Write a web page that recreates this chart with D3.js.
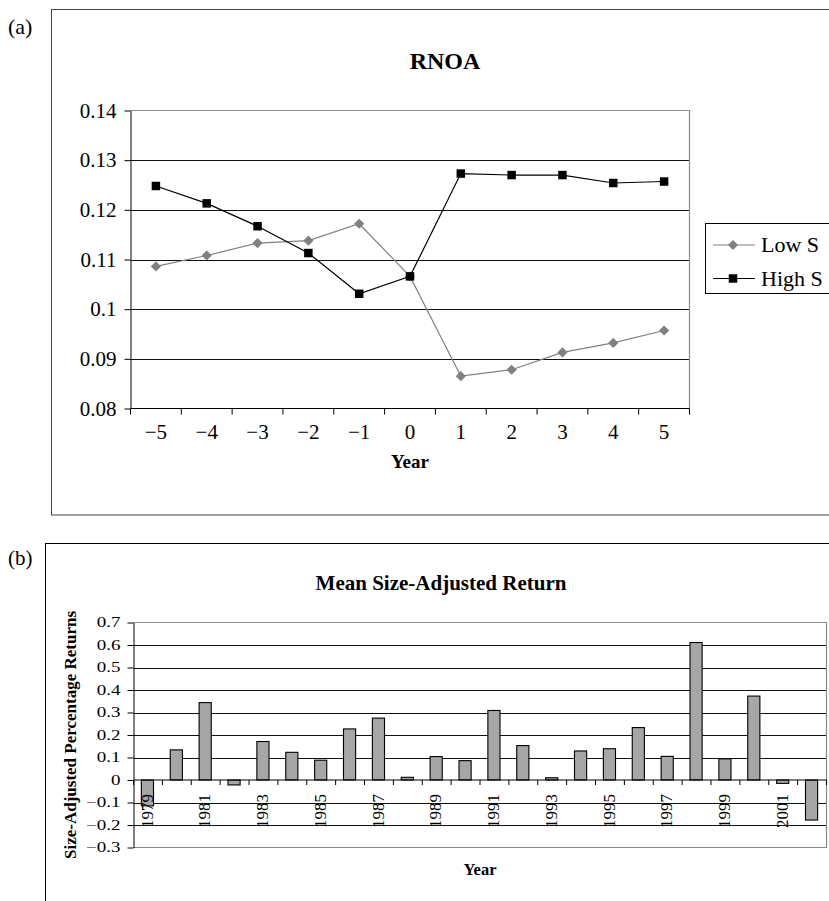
<!DOCTYPE html>
<html>
<head>
<meta charset="utf-8">
<script src="https://cdn.jsdelivr.net/npm/d3@7"></script>
<style>
  html, body { margin: 0; padding: 0; background: #fff; }
  text { font-family: "Liberation Serif", "Times New Roman", serif; }
</style>
</head>
<body>
<svg id="chart"></svg>
<script>
// Panel (a): RNOA around event year
const rnoaYears = [-5, -4, -3, -2, -1, 0, 1, 2, 3, 4, 5];
const lowS  = [0.1086, 0.1108, 0.1133, 0.1138, 0.1172, 0.1066, 0.0865, 0.0878, 0.0913, 0.0932, 0.0957];
const highS = [0.1248, 0.1213, 0.1167, 0.1113, 0.1031, 0.1066, 0.1273, 0.1270, 0.1270, 0.1254, 0.1257];
const rnoaTicks = [0.08, 0.09, 0.1, 0.11, 0.12, 0.13, 0.14];

// Panel (b): mean size-adjusted return by year
const returnYears = [1979, 1980, 1981, 1982, 1983, 1984, 1985, 1986, 1987, 1988, 1989, 1990,
                     1991, 1992, 1993, 1994, 1995, 1996, 1997, 1998, 1999, 2000, 2001, 2002];
const sizeAdjReturns = [-0.115, 0.134, 0.344, -0.022, 0.171, 0.123, 0.088, 0.227, 0.275, 0.012, 0.104, 0.086,
                        0.309, 0.153, 0.010, 0.129, 0.139, 0.233, 0.105, 0.611, 0.094, 0.373, -0.015, -0.178];
const returnTicks = [-0.3, -0.2, -0.1, 0, 0.1, 0.2, 0.3, 0.4, 0.5, 0.6, 0.7];
const returnLabelYears = [1979, 1981, 1983, 1985, 1987, 1989, 1991, 1993, 1995, 1997, 1999, 2001];

const W = 829, H = 901;
const svg = d3.select("#chart").attr("width", W).attr("height", H);

const fmtNum = v => {
  const s = String(+v.toFixed(2));
  return s.startsWith("-") ? "\u2212" + s.slice(1) : s;
};

// ---------------- panel (a) ----------------
svg.append("text").attr("x", 8).attr("y", 34).attr("font-size", 22).text("(a)");
svg.append("rect")
    .attr("x", 51.5).attr("y", 9.5).attr("width", 820).attr("height", 505.5)
    .attr("fill", "none").attr("stroke", "#444");

svg.append("text")
    .attr("x", 445).attr("y", 69)
    .attr("text-anchor", "middle").attr("font-size", 24).attr("font-weight", "bold")
    .text("RNOA");

const xA = d3.scaleBand().domain(rnoaYears).range([130.5, 689.5]).padding(0);
const yA = d3.scaleLinear().domain([0.08, 0.14]).range([408.5, 110.5]);
const cxA = d => xA(d) + xA.bandwidth() / 2;

const gA = svg.append("g");

// gridlines
gA.append("g").selectAll("line")
  .data(rnoaTicks.filter(t => t > 0.08 && t < 0.14))
  .join("line")
    .attr("x1", xA.range()[0]).attr("x2", xA.range()[1])
    .attr("y1", d => Math.round(yA(d)) + 0.5).attr("y2", d => Math.round(yA(d)) + 0.5)
    .attr("stroke", "#111").attr("stroke-width", 1.2);

// plot border (top/right gray)
gA.append("path")
    .attr("d", `M${xA.range()[0]},${yA(0.14)}H${xA.range()[1]}V${yA(0.08)}`)
    .attr("fill", "none").attr("stroke", "#8a8a8a").attr("stroke-width", 1.2);

// y axis
const axisA = gA.append("g")
    .attr("transform", `translate(${xA.range()[0]},0)`)
    .call(d3.axisLeft(yA).tickValues(rnoaTicks).tickSize(6).tickSizeOuter(0).tickPadding(8).tickFormat(fmtNum));
axisA.select(".domain").attr("stroke", "#000");
axisA.selectAll(".tick line").attr("stroke", "#000");
axisA.selectAll(".tick text")
    .attr("font-family", "Liberation Serif, serif").attr("font-size", 21).attr("fill", "#000");

// x axis
gA.append("line")
    .attr("x1", xA.range()[0]).attr("x2", xA.range()[1])
    .attr("y1", yA(0.08)).attr("y2", yA(0.08))
    .attr("stroke", "#000");
gA.append("g").selectAll("line")
  .data(rnoaYears.map(d => xA(d)).concat([xA.range()[1]]))
  .join("line")
    .attr("x1", d => d).attr("x2", d => d)
    .attr("y1", yA(0.08)).attr("y2", yA(0.08) + 6)
    .attr("stroke", "#000");
gA.append("g").selectAll("text")
  .data(rnoaYears)
  .join("text")
    .attr("x", d => cxA(d)).attr("y", 439)
    .attr("text-anchor", "middle").attr("font-size", 21)
    .text(d => fmtNum(d));
gA.append("text")
    .attr("x", (xA.range()[0] + xA.range()[1]) / 2).attr("y", 468)
    .attr("text-anchor", "middle").attr("font-size", 19).attr("font-weight", "bold")
    .text("Year");

// series
const series = [
  { name: "Low S", values: lowS, color: "#808080", symbol: d3.symbolSquare, size: 52, rotate: 45 },
  { name: "High S", values: highS, color: "#000", symbol: d3.symbolSquare, size: 72, rotate: 0 }
];
const line = d3.line().x((d, i) => cxA(rnoaYears[i])).y(d => yA(d));

series.forEach(s => {
  gA.append("path")
      .attr("d", line(s.values))
      .attr("fill", "none").attr("stroke", s.color).attr("stroke-width", 1.2);
  gA.append("g").selectAll("path")
    .data(s.values)
    .join("path")
      .attr("d", d3.symbol(s.symbol, s.size))
      .attr("transform", (d, i) => `translate(${cxA(rnoaYears[i])},${yA(d)}) rotate(${s.rotate})`)
      .attr("fill", s.color);
});

// legend
const legend = svg.append("g");
legend.append("rect")
    .attr("x", 705.5).attr("y", 223.5).attr("width", 140).attr("height", 70)
    .attr("fill", "#fff").attr("stroke", "#000");
series.forEach((s, i) => {
  const ly = 245 + i * 33.5;
  legend.append("line")
      .attr("x1", 713).attr("x2", 755).attr("y1", ly).attr("y2", ly)
      .attr("stroke", s.color).attr("stroke-width", 1.2);
  legend.append("path")
      .attr("d", d3.symbol(s.symbol, s.size))
      .attr("transform", `translate(733,${ly}) rotate(${s.rotate})`)
      .attr("fill", s.color);
  legend.append("text")
      .attr("x", 761).attr("y", ly + 7)
      .attr("font-size", 22)
      .text(s.name);
});

// ---------------- panel (b) ----------------
svg.append("text").attr("x", 8).attr("y", 565).attr("font-size", 21).text("(b)");
svg.append("rect")
    .attr("x", 45.5).attr("y", 543.5).attr("width", 820).attr("height", 400)
    .attr("fill", "none").attr("stroke", "#000");

svg.append("text")
    .attr("x", 441).attr("y", 590)
    .attr("text-anchor", "middle").attr("font-size", 21).attr("font-weight", "bold")
    .text("Mean Size-Adjusted Return");

const xB = d3.scaleBand().domain(returnYears).range([133.5, 826.5]).padding(0);
const yB = d3.scaleLinear().domain([-0.3, 0.7]).range([847.5, 622.5]);
const gB = svg.append("g");

gB.append("g").selectAll("line")
  .data(returnTicks.filter(t => t > -0.3 && t < 0.7 && t !== 0))
  .join("line")
    .attr("x1", xB.range()[0]).attr("x2", xB.range()[1])
    .attr("y1", d => Math.round(yB(d)) + 0.5).attr("y2", d => Math.round(yB(d)) + 0.5)
    .attr("stroke", "#111").attr("stroke-width", 1.1);

gB.append("path")
    .attr("d", `M${xB.range()[0]},${yB(0.7)}H${xB.range()[1]}V${yB(-0.3)}H${xB.range()[0]}`)
    .attr("fill", "none").attr("stroke", "#8a8a8a").attr("stroke-width", 1.2);

// bars
const barW = xB.bandwidth() * 0.42;
gB.append("g").selectAll("rect")
  .data(returnYears.map((yr, i) => ({ yr, v: sizeAdjReturns[i] })))
  .join("rect")
    .attr("x", d => xB(d.yr) + (xB.bandwidth() - barW) / 2 - 0.5)
    .attr("y", d => yB(Math.max(0, d.v)))
    .attr("width", barW)
    .attr("height", d => Math.abs(yB(d.v) - yB(0)))
    .attr("fill", "#a6a6a6").attr("stroke", "#000").attr("stroke-width", 1.1);

// zero axis with ticks
gB.append("line")
    .attr("x1", xB.range()[0]).attr("x2", xB.range()[1])
    .attr("y1", yB(0)).attr("y2", yB(0))
    .attr("stroke", "#000");
gB.append("g").selectAll("line")
  .data(returnYears.map(d => xB(d)).concat([xB.range()[1]]))
  .join("line")
    .attr("x1", d => d).attr("x2", d => d)
    .attr("y1", yB(0)).attr("y2", yB(0) + 5)
    .attr("stroke", "#000");

// y axis
const axisB = gB.append("g")
    .attr("transform", `translate(${xB.range()[0]},0)`)
    .call(d3.axisLeft(yB).tickValues(returnTicks).tickSize(6).tickSizeOuter(0).tickPadding(7).tickFormat(fmtNum));
axisB.select(".domain").attr("stroke", "#000");
axisB.selectAll(".tick line").attr("stroke", "#000");
axisB.selectAll(".tick text")
    .attr("font-family", "Liberation Serif, serif").attr("font-size", 19).attr("fill", "#000")
    .attr("transform", "scale(1,0.72)");

// rotated year labels
gB.append("g").selectAll("text")
  .data(returnLabelYears)
  .join("text")
    .attr("transform", d => `translate(${xB(d) + xB.bandwidth() / 2 - 1},794) rotate(-90)`)
    .attr("text-anchor", "end").attr("dy", "0.34em")
    .attr("font-size", 17)
    .text(d => d);

gB.append("text")
    .attr("x", (xB.range()[0] + xB.range()[1]) / 2).attr("y", 875)
    .attr("text-anchor", "middle").attr("font-size", 16.5).attr("font-weight", "bold")
    .text("Year");

gB.append("text")
    .attr("transform", `translate(76,${(yB.range()[0] + yB.range()[1]) / 2}) rotate(-90)`)
    .attr("text-anchor", "middle").attr("font-size", 17).attr("font-weight", "bold")
    .text("Size-Adjusted Percentage Returns");
</script>
</body>
</html>
